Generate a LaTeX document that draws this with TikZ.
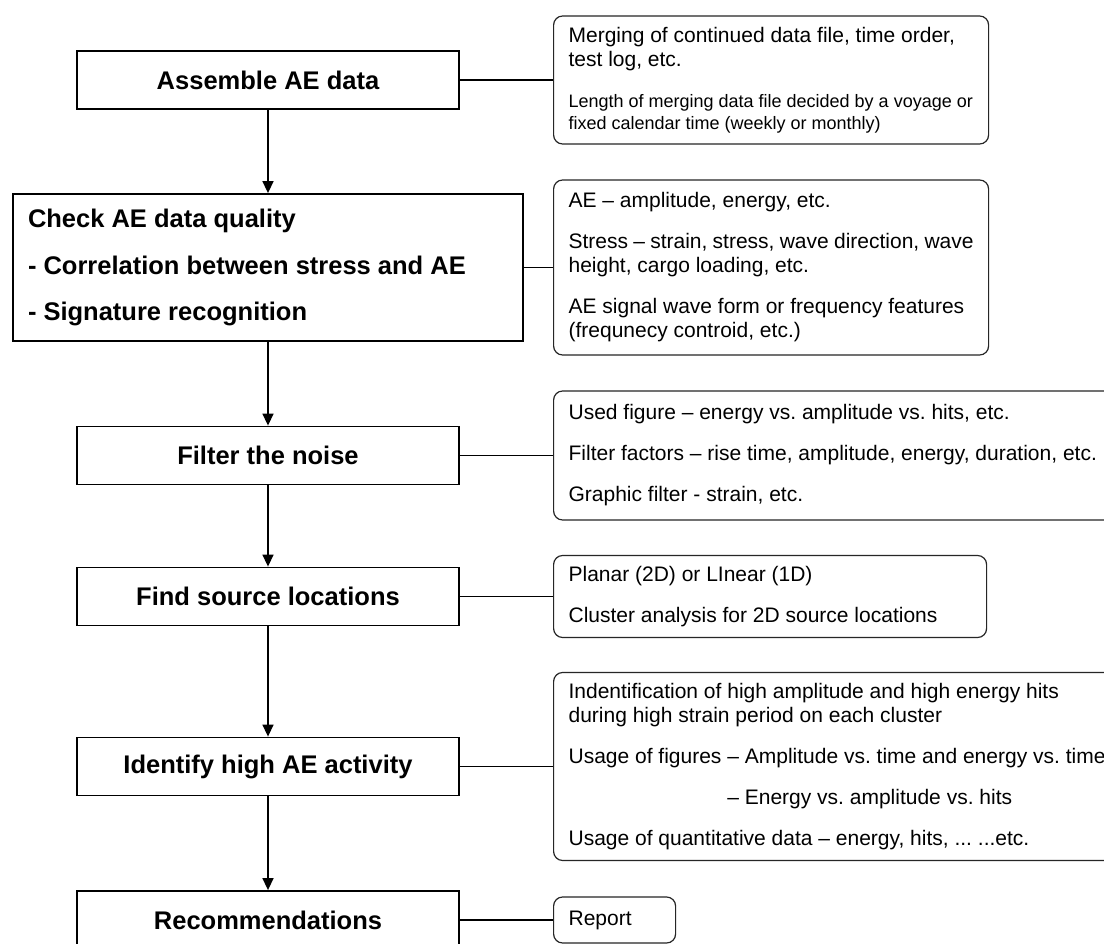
\documentclass[tikz,border=0pt]{standalone}
\usepackage{fontspec}
\setmainfont{Liberation Sans}
\usetikzlibrary{arrows.meta}
\frenchspacing
\newcommand\notetext[2]{\begin{minipage}{#1pt}\raggedright\frenchspacing\setlength\parskip{17pt}#2\end{minipage}}
\begin{document}
\begin{tikzpicture}[x=1pt,y=-1pt,
  stepbox/.style={draw=black, line width=1.8pt, fill=white, minimum width=382pt,
    minimum height=58pt, inner sep=0pt, font=\fontsize{25.5}{30}\selectfont\bfseries},
  note/.style={draw=black!85, line width=1.2pt, rounded corners=9pt, anchor=west,
    inner xsep=15pt, inner ysep=0pt, font=\fontsize{21}{24}\selectfont},
  flow/.style={line width=1.5pt, -{Triangle[length=12pt,width=11pt]}},
  link/.style={line width=1.5pt}]
\useasboundingbox (0,0) rectangle (1104,944);
\clip (0,0) rectangle (1104,944);
\fill[white] (0,0) rectangle (1104,944);

% left column
\node[stepbox] (a) at (268,80) {Assemble AE data};
\node[stepbox, minimum width=510pt, minimum height=147pt] (b) at (268,267.5)
  {\begin{minipage}{480pt}\fontsize{25.5}{46.5}\selectfont
   Check AE data quality\\
   - Correlation between stress and AE\\
   - Signature recognition\end{minipage}};
\node[stepbox] (c) at (268,455.5) {Filter the noise};
\node[stepbox] (d) at (268,596.5) {Find source locations};
\node[stepbox] (e) at (268,766.5) {Identify high AE activity};
\node[stepbox] (f) at (268,920) {Recommendations};

% right column
\node[note, minimum height=128pt] (r1) at (553,80)
  {\notetext{405}{Merging of continued data file, time order,\\test log, etc.\par
   \vspace{2pt}{\fontsize{18}{22}\selectfont Length of merging data file decided by a voyage or\\
   fixed calendar time (weekly or monthly)\par}}};
\node[note, minimum height=175pt] (r2) at (553,267.5)
  {\notetext{405}{AE -- amplitude, energy, etc.\par
   Stress -- strain, stress, wave direction, wave\\height, cargo loading, etc.\par
   AE signal wave form or frequency features\\(frequnecy controid, etc.)}};
\node[note, minimum height=129pt] (r3) at (553,455.5)
  {\notetext{580}{Used figure -- energy vs. amplitude vs. hits, etc.\par
   Filter factors -- rise time, amplitude, energy, duration, etc.\par
   Graphic filter - strain, etc.}};
\node[note, minimum height=82pt] (r4) at (553,596.5)
  {\notetext{403}{Planar (2D) or LInear (1D)\par
   Cluster analysis for 2D source locations}};
\node[note, minimum height=188pt] (r5) at (553,766.5)
  {\notetext{580}{Indentification of high amplitude and high energy hits\\
   during high strain period on each cluster\par
   Usage of figures -- Amplitude vs. time and energy vs. time\par
   \leavevmode\phantom{Usage of figures }-- Energy vs. amplitude vs. hits\par
   Usage of quantitative data -- energy, hits, ... ...etc.}};
\node[note, minimum height=46pt] (r6) at (553,920)
  {\notetext{92}{Report}};

% flow arrows
\draw[flow] (a) -- (b);
\draw[flow] (b) -- (c);
\draw[flow] (c) -- (d);
\draw[flow] (d) -- (e);
\draw[flow] (e) -- (f);

% side links
\draw[link] (a.east) -- (r1.west);
\draw[link] (b.east) -- (r2.west);
\draw[link] (c.east) -- (r3.west);
\draw[link] (d.east) -- (r4.west);
\draw[link] (e.east) -- (r5.west);
\draw[link] (f.east) -- (r6.west);
\end{tikzpicture}
\end{document}
